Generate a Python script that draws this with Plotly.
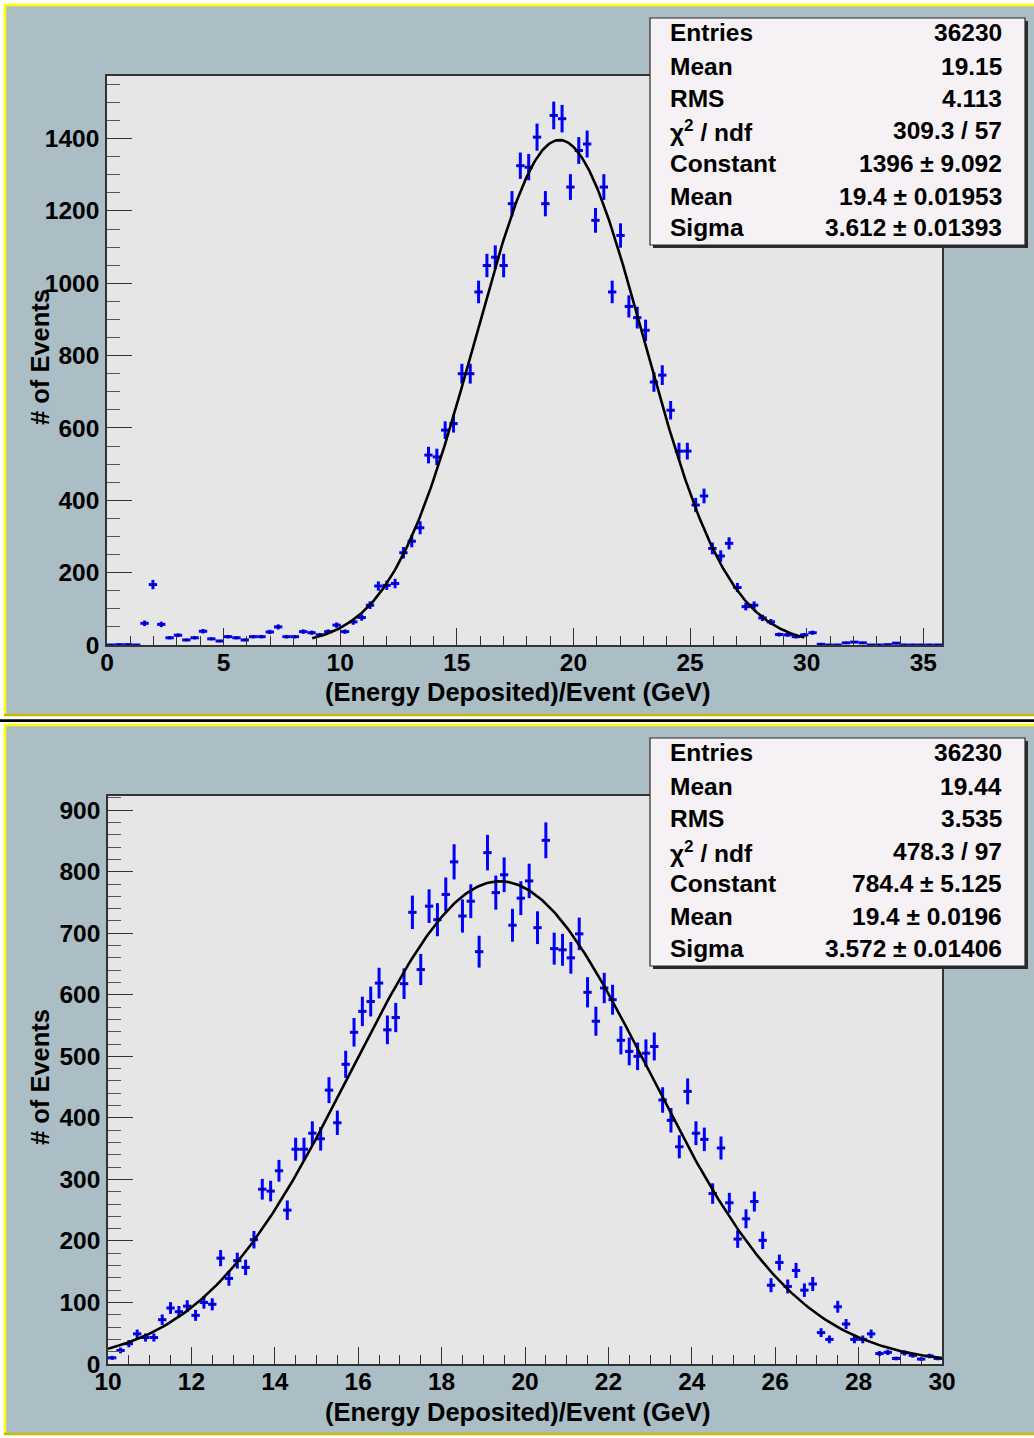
import numpy as np
import plotly.graph_objects as go

W, H = 1034, 1438

# ---------------- data ----------------
# upper histogram: 100 bins on [0, 35.8]
top_edges = (0.0, 35.8)
top_counts = [
    0, 1, 1, 0, 60, 167, 57, 20, 27, 14,
    20, 38, 17, 11, 23, 20, 14, 23, 23, 36,
    50, 23, 23, 37, 34, 28, 37, 55, 37, 64,
    76, 110, 163, 165, 170, 255, 287, 324, 525, 520,
    594, 612, 750, 750, 976, 1049, 1072, 1049, 1220, 1325,
    1321, 1404, 1220, 1464, 1455, 1266, 1367, 1385, 1174, 1266,
    976, 1132, 936, 905, 870, 727, 746, 649, 536, 536,
    387, 412, 267, 246, 281, 159, 106, 110, 75, 64,
    29, 28, 23, 28, 34, 2, 0, 0, 6, 8,
    6, 0, 0, 1, 5, 0, 0, 0, 0, 0,
]
top_fit = {"const": 1396.0, "mean": 19.4, "sigma": 3.612, "lo": 8.8, "hi": 29.9}
top_stats_labels = ["Entries", "Mean", "RMS", "χ<sup>2</sup> / ndf", "Constant", "Mean", "Sigma"]
top_stats_values = ["36230", "19.15", "4.113", "309.3 / 57", "1396 ± 9.092",
                    "19.4 ± 0.01953", "3.612 ± 0.01393"]

# lower histogram: 100 bins on [10, 30]
bot_edges = (10.0, 30.0)
bot_counts = [
    10, 22, 33, 49, 43, 43, 72, 91, 85, 94,
    79, 100, 97, 172, 139, 168, 157, 202, 284, 281,
    314, 250, 349, 349, 375, 366, 445, 392, 487, 539,
    573, 589, 619, 543, 563, 618, 734, 641, 744, 722,
    763, 816, 728, 752, 670, 831, 766, 795, 713, 757,
    785, 709, 851, 675, 673, 660, 699, 604, 557, 611,
    592, 526, 508, 500, 505, 516, 429, 396, 353, 443,
    375, 365, 277, 351, 262, 203, 236, 264, 201, 128,
    165, 126, 152, 120, 130, 51, 40, 93, 65, 40,
    40, 49, 17, 19, 9, 18, 14, 8, 13, 9,
]
bot_fit = {"const": 784.4, "mean": 19.4, "sigma": 3.572, "lo": 10.0, "hi": 30.0}
bot_stats_labels = ["Entries", "Mean", "RMS", "χ<sup>2</sup> / ndf", "Constant", "Mean", "Sigma"]
bot_stats_values = ["36230", "19.44", "3.535", "478.3 / 97", "784.4 ± 5.125",
                    "19.4 ± 0.0196", "3.572 ± 0.01406"]

x_title = "(Energy Deposited)/Event (GeV)"
y_title = "# of Events"

# ---------------- styling ----------------
FONT = "Liberation Sans, Arial, Helvetica, sans-serif"
PAD_BG = "#abbdc5"
FRAME_BG = "#e6e6e6"
STAT_BG = "#f5f1f5"
BLUE = "#0000ff"
YELLOW = "#ffff00"
OLIVE = "#c4bc00"
TXT = dict(family=FONT, size=24.5, color="black", weight="bold")
TITLE_TXT = dict(family=FONT, size=25.5, color="black", weight="bold")


def px(x):
    return x / W


def py(y):
    return 1 - y / H


panels = [
    {  # upper pad
        "counts": top_counts, "edges": top_edges, "fit": top_fit,
        "xr": [0, 35.8], "yr": [0, 1573],
        "frame": (107, 942, 76, 645),
        "pad": (4, 1034, 4, 716),
        "xdt": 5, "xminor": 1, "ydt": 200, "yminor": 50,
        "box": (650, 1025, 18, 245), "rows": [33, 66, 98, 131, 163, 196, 228],
        "labels": top_stats_labels, "values": top_stats_values,
        "xtitle_y": 692, "ytitle_y": 357,
    },
    {  # lower pad
        "counts": bot_counts, "edges": bot_edges, "fit": bot_fit,
        "xr": [10, 30], "yr": [0, 923],
        "frame": (108, 942, 796, 1364),
        "pad": (4, 1034, 724, 1435),
        "xdt": 2, "xminor": 0.5, "ydt": 100, "yminor": 20,
        "box": (650, 1025, 738, 966), "rows": [753, 786, 818, 851, 883, 916, 948],
        "labels": bot_stats_labels, "values": bot_stats_values,
        "xtitle_y": 1412, "ytitle_y": 1077,
    },
]

fig = go.Figure()
shapes = []
annotations = []

for k, p in enumerate(panels):
    sfx = "" if k == 0 else str(k + 1)
    xa, ya = "x" + sfx, "y" + sfx
    x0, x1, y0, y1 = p["frame"]
    pl, pr, pt, pb = p["pad"]

    # pad background and bevelled border
    shapes.append(dict(type="rect", xref="paper", yref="paper", layer="below",
                       x0=px(pl), x1=px(pr), y0=py(pb), y1=py(pt),
                       fillcolor=PAD_BG, line=dict(width=0)))
    shapes.append(dict(type="line", xref="paper", yref="paper", layer="below",
                       x0=px(pl + 1), x1=px(pl + 1), y0=py(pb), y1=py(pt),
                       line=dict(color=YELLOW, width=2.5)))
    shapes.append(dict(type="line", xref="paper", yref="paper", layer="below",
                       x0=px(pl), x1=px(pr), y0=py(pt + 1), y1=py(pt + 1),
                       line=dict(color=YELLOW, width=2.5)))
    shapes.append(dict(type="line", xref="paper", yref="paper", layer="below",
                       x0=px(pl), x1=px(pr), y0=py(pb - 1), y1=py(pb - 1),
                       line=dict(color=OLIVE, width=2.5)))
    # frame background
    shapes.append(dict(type="rect", xref="paper", yref="paper", layer="below",
                       x0=px(x0), x1=px(x1), y0=py(y1), y1=py(y0),
                       fillcolor=FRAME_BG, line=dict(width=0)))

    # histogram with error bars
    counts = np.array(p["counts"], dtype=float)
    lo, hi = p["edges"]
    edges = np.linspace(lo, hi, len(counts) + 1)
    centers = 0.5 * (edges[:-1] + edges[1:])
    half = 0.5 * (edges[1] - edges[0])
    fig.add_trace(go.Scatter(
        x=centers, y=counts, mode="markers", xaxis=xa, yaxis=ya,
        marker=dict(size=2, color="#000000"),
        error_x=dict(type="constant", value=half, color=BLUE, thickness=3, width=0),
        error_y=dict(type="data", array=np.sqrt(counts), color=BLUE, thickness=3, width=0),
        showlegend=False, hoverinfo="skip",
    ))

    # gaussian fit
    f = p["fit"]
    xs = np.linspace(f["lo"], f["hi"], 400)
    ys = f["const"] * np.exp(-0.5 * ((xs - f["mean"]) / f["sigma"]) ** 2)
    fig.add_trace(go.Scatter(x=xs, y=ys, mode="lines", xaxis=xa, yaxis=ya,
                             line=dict(color="black", width=2.6),
                             showlegend=False, hoverinfo="skip"))

    axis_common = dict(showgrid=False, zeroline=False, showline=True, mirror=True,
                       linecolor="#333333", linewidth=1.5, ticks="inside",
                       tickcolor="#333333", tickwidth=1.2, automargin=False,
                       tickfont=TXT)
    fig.layout["xaxis" + sfx] = dict(
        axis_common, domain=[px(x0), px(x1)], range=p["xr"], anchor=ya,
        dtick=p["xdt"], tick0=0, ticklen=17,
        minor=dict(dtick=p["xminor"], tick0=0, ticklen=9, ticks="inside",
                   tickcolor="#333333", tickwidth=1.2),
        ticklabelstandoff=-5,
    )
    fig.layout["yaxis" + sfx] = dict(
        axis_common, domain=[py(y1), py(y0)], range=p["yr"], anchor=xa,
        dtick=p["ydt"], tick0=0, ticklen=25,
        minor=dict(dtick=p["yminor"], tick0=0, ticklen=13, ticks="inside",
                   tickcolor="#555555", tickwidth=1.2),
        ticklabelstandoff=1,
    )

    # axis titles
    annotations.append(dict(xref="paper", yref="paper", x=px(517), y=py(p["xtitle_y"]),
                            text=x_title, showarrow=False, xanchor="center", yanchor="middle",
                            font=TITLE_TXT))
    annotations.append(dict(xref="paper", yref="paper", x=px(40), y=py(p["ytitle_y"]),
                            text=y_title, showarrow=False, textangle=-90,
                            xanchor="center", yanchor="middle", font=TITLE_TXT))

    # statistics box with drop shadow
    bl, br, bt, bb = p["box"]
    shapes.append(dict(type="rect", xref="paper", yref="paper", layer="above",
                       x0=px(bl + 3), x1=px(br + 3), y0=py(bb + 3), y1=py(bt + 3),
                       fillcolor="#2a2a2a", line=dict(width=0)))
    shapes.append(dict(type="rect", xref="paper", yref="paper", layer="above",
                       x0=px(bl), x1=px(br), y0=py(bb), y1=py(bt),
                       fillcolor=STAT_BG, line=dict(color="#2a2a2a", width=1.2)))
    for lab, val, ry in zip(p["labels"], p["values"], p["rows"]):
        annotations.append(dict(xref="paper", yref="paper", x=px(668), y=py(ry),
                                text=lab, showarrow=False, xanchor="left", yanchor="middle",
                                font=TXT))
        annotations.append(dict(xref="paper", yref="paper", x=px(1004), y=py(ry),
                                text=val, showarrow=False, xanchor="right", yanchor="middle",
                                font=TXT))

# separator between the two pads
shapes.append(dict(type="line", xref="paper", yref="paper", layer="below",
                   x0=0, x1=1, y0=py(720.7), y1=py(720.7),
                   line=dict(color="black", width=2.7)))

fig.update_layout(
    width=W, height=H, autosize=False,
    margin=dict(l=0, r=0, t=0, b=0, pad=0, autoexpand=False),
    paper_bgcolor="white", plot_bgcolor="rgba(0,0,0,0)",
    font=dict(family=FONT, color="black"),
    shapes=shapes, annotations=annotations, showlegend=False,
)

fig.write_html("out.html")
